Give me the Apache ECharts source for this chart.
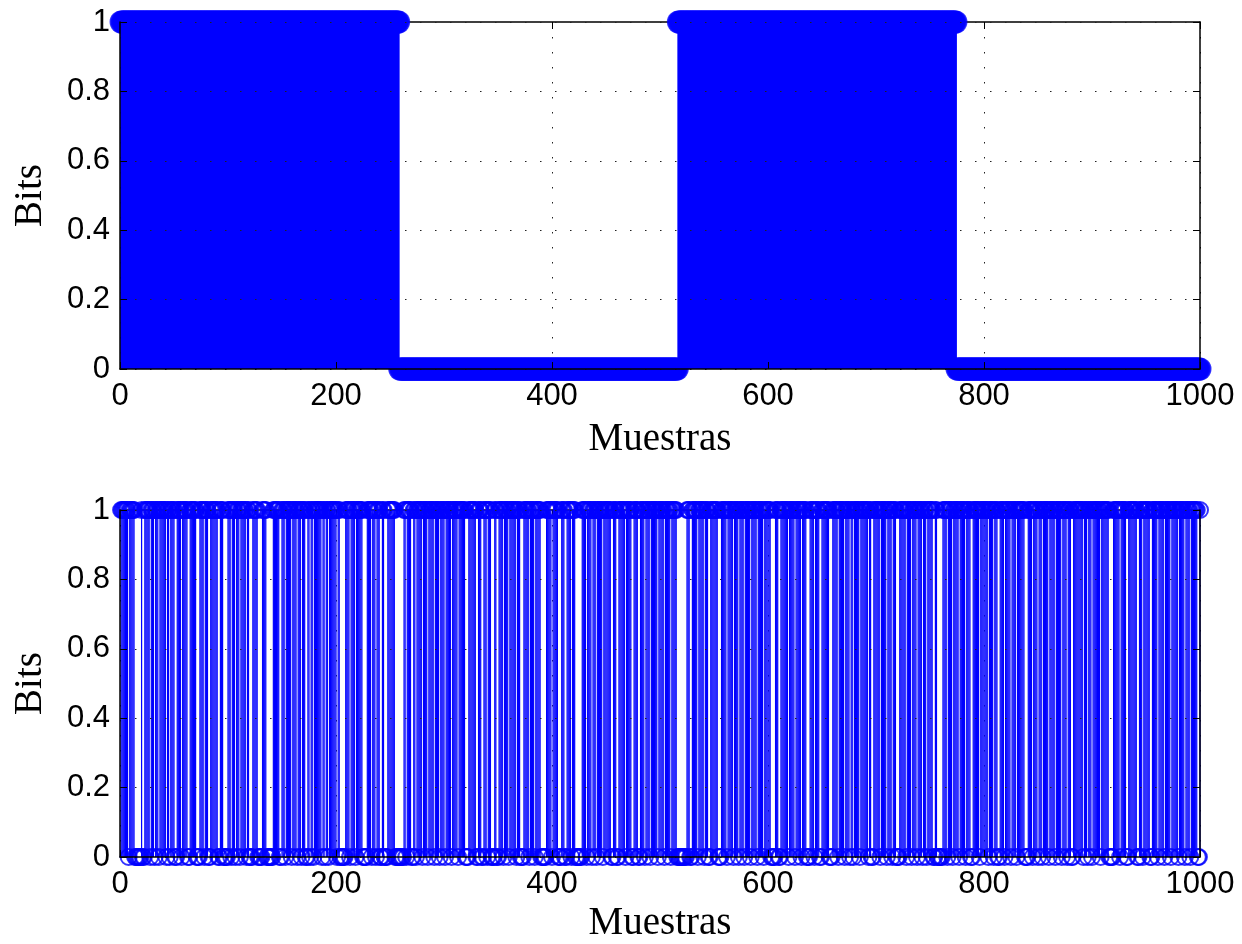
<!DOCTYPE html>
<html>
<head>
<meta charset="utf-8">
<title>Bits vs Muestras</title>
<script src="https://cdn.jsdelivr.net/npm/echarts@6/dist/echarts.min.js"></script>
<style>
  html, body { margin: 0; padding: 0; background: #fff; }
  #chart { width: 1242px; height: 944px; }
</style>
</head>
<body>
<div id="chart"></div>
<script>
// datos
const sampleCount = 1000;
const xTickStep = 200;
const yTickStep = 0.2;

// muestra donde el bit cambia de valor (se empieza en 1 en la muestra 1)
const topToggles = [259, 517, 775];
const bottomToggles = [
  8, 9, 14, 20, 21, 23, 28, 29, 32, 33, 36, 37, 43, 44, 46, 47, 51, 53, 57, 58,
  63, 65, 71, 74, 78, 79, 82, 84, 91, 93, 96, 100, 103, 104, 107, 108, 111, 112, 117, 118,
  120, 123, 128, 132, 136, 142, 148, 150, 153, 154, 159, 160, 164, 165, 168, 169, 172, 174, 176, 177,
  179, 180, 187, 188, 190, 191, 193, 194, 201, 202, 204, 209, 213, 214, 218, 219, 225, 229, 233, 234,
  237, 238, 241, 243, 245, 248, 255, 263, 265, 266, 270, 272, 274, 275, 280, 281, 285, 286, 291, 292,
  296, 297, 301, 302, 307, 308, 313, 314, 320, 323, 330, 332, 335, 337, 340, 341, 344, 347, 349, 351,
  355, 356, 360, 361, 367, 368, 371, 374, 379, 380, 384, 385, 390, 395, 400, 401, 406, 409, 412, 414,
  418, 419, 422, 428, 432, 433, 437, 438, 441, 442, 447, 448, 455, 457, 460, 462, 468, 469, 474, 476,
  480, 482, 486, 487, 491, 492, 498, 499, 504, 505, 510, 511, 516, 525, 528, 530, 535, 536, 541, 542,
  545, 547, 554, 557, 562, 563, 568, 569, 573, 574, 578, 579, 584, 585, 590, 591, 596, 597, 603, 607,
  610, 612, 619, 620, 625, 626, 631, 632, 636, 639, 643, 644, 648, 650, 657, 660, 665, 666, 671, 672,
  676, 677, 679, 680, 685, 686, 693, 694, 696, 698, 704, 705, 710, 711, 715, 716, 719, 722, 728, 729,
  733, 734, 738, 739, 743, 744, 747, 748, 753, 755, 757, 762, 766, 767, 771, 772, 777, 778, 783, 784,
  788, 790, 796, 797, 804, 805, 809, 810, 813, 815, 819, 820, 825, 826, 830, 831, 838, 841, 845, 846,
  850, 851, 854, 855, 860, 861, 866, 867, 872, 873, 877, 878, 881, 883, 892, 893, 896, 897, 900, 901,
  908, 909, 916, 920, 926, 927, 932, 934, 942, 944, 947, 948, 954, 956, 961, 962, 967, 968, 973, 974,
  980, 981, 986, 987, 991, 992, 998, 1000
];

const blue = '#0000ff';
const labelFont = { fontFamily: 'Liberation Sans, Arial, sans-serif', fontSize: 31, color: '#000' };
const nameFont = { fontFamily: 'Liberation Serif, Times New Roman, serif', fontSize: 39, color: '#000' };

// pasa la lista de cambios a pares [muestra, bit]
function toBits(toggles) {
  const out = [];
  let v = 1, k = 0;
  for (let n = 1; n <= sampleCount; n++) {
    if (k < toggles.length && toggles[k] === n) { v = 1 - v; k++; }
    out.push([n, v]);
  }
  return out;
}

const topBits = toBits(topToggles);
const bottomBits = toBits(bottomToggles);

function axesFor(gridIndex, nameGapX) {
  const dots = { show: true, lineStyle: { color: '#222', width: 1, type: [1.5, 13.5] } };
  const box = { show: true, onZero: false, lineStyle: { color: '#000', width: 1.5 } };
  const tick = { show: true, inside: true, length: 7, lineStyle: { color: '#000' } };
  const xs = [
    {
      type: 'value', gridIndex: gridIndex, min: 0, max: sampleCount, interval: xTickStep,
      position: 'bottom', z: 10,
      name: 'Muestras', nameLocation: 'middle', nameGap: nameGapX, nameTextStyle: nameFont,
      axisLine: box, axisTick: tick,
      axisLabel: Object.assign({ margin: 12, formatter: v => String(v) }, labelFont),
      splitLine: { show: false }
    },
    {
      // eje de arriba: cierra la caja y lleva la rejilla vertical por debajo de los tallos
      type: 'value', gridIndex: gridIndex, min: 0, max: sampleCount, interval: xTickStep,
      position: 'top',
      axisLine: box, axisTick: tick,
      axisLabel: { show: false },
      splitLine: dots
    }
  ];
  const ys = [
    {
      type: 'value', gridIndex: gridIndex, min: 0, max: 1, interval: yTickStep,
      position: 'left', z: 10,
      name: 'Bits', nameLocation: 'middle', nameGap: 70, nameRotate: 90, nameTextStyle: nameFont,
      axisLine: box, axisTick: tick,
      axisLabel: Object.assign({ margin: 10 }, labelFont),
      splitLine: dots
    },
    {
      type: 'value', gridIndex: gridIndex, min: 0, max: 1, interval: yTickStep,
      position: 'right', z: 10,
      axisLine: box, axisTick: tick,
      axisLabel: { show: false },
      splitLine: { show: false }
    }
  ];
  return { xs, ys };
}

const a0 = axesFor(0, 51);
const a1 = axesFor(1, 47);

const chart = echarts.init(document.getElementById('chart'), null, { renderer: 'canvas' });
chart.setOption({
  animation: false,
  backgroundColor: '#fff',
  grid: [
    { left: 120, right: 42, top: 22, height: 347 },
    { left: 120, right: 42, top: 510, height: 347 }
  ],
  xAxis: a0.xs.concat(a1.xs),
  yAxis: a0.ys.concat(a1.ys),
  series: [
    {
      type: 'bar', xAxisIndex: 0, yAxisIndex: 0, data: topBits,
      barWidth: 2, itemStyle: { color: blue }, silent: true
    },
    {
      type: 'scatter', xAxisIndex: 0, yAxisIndex: 0, data: topBits,
      symbol: 'circle', symbolSize: 23, clip: false,
      itemStyle: { color: blue }, silent: true
    },
    {
      type: 'bar', xAxisIndex: 2, yAxisIndex: 2, data: bottomBits,
      barWidth: 1.2, itemStyle: { color: blue }, silent: true
    },
    {
      type: 'scatter', xAxisIndex: 2, yAxisIndex: 2, data: bottomBits,
      symbol: 'circle', symbolSize: 16, clip: false,
      itemStyle: { color: 'rgba(0,0,0,0)', borderColor: blue, borderWidth: 2 }, silent: true
    }
  ]
});
</script>
</body>
</html>
